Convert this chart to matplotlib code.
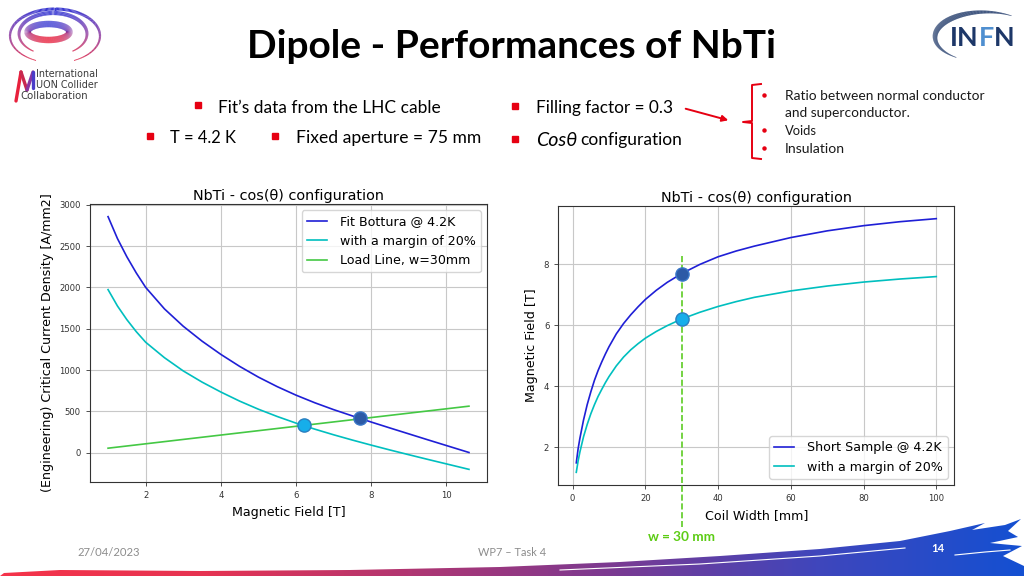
import numpy as np
import matplotlib.pyplot as plt
from matplotlib.patches import Polygon, FancyArrowPatch
from matplotlib.collections import LineCollection
from matplotlib.colors import LinearSegmentedColormap

# ---- left chart: NbTi critical current density vs field ----
field_b = [1.0, 1.25, 1.5, 1.75, 2.0, 2.5, 3.0, 3.5, 4.0, 4.5, 5.0, 5.5,
           6.0, 6.5, 7.0, 7.5, 8.0, 8.5, 9.0, 9.5, 10.0, 10.6]
jc_bottura = [2855, 2590, 2370, 2175, 2000, 1740, 1530, 1350, 1190, 1045, 915, 800,
              697, 605, 522, 446, 372, 300, 229, 158, 88, 4]
jc_margin = [1973, 1775, 1610, 1465, 1337, 1150, 990, 855, 735, 625, 527, 439,
             359, 286, 218, 154, 93, 34, -23, -79, -134, -200]
load_b = [1.0, 10.6]
load_j = [56, 564]
point_b = [7.7, 6.2]   # short sample, with margin
point_j = [419, 331]

# ---- right chart: field vs coil width ----
coil_w = [1, 1.5, 2, 3, 4, 5, 6, 7, 8, 9, 10, 12, 14, 16, 18, 20, 23, 26, 30,
          35, 40, 45, 50, 60, 70, 80, 90, 100]
b_short = [1.49, 1.95, 2.3, 2.9, 3.4, 3.82, 4.2, 4.52, 4.8, 5.06, 5.3, 5.72, 6.06, 6.35,
           6.61, 6.85, 7.15, 7.41, 7.7, 8.0, 8.25, 8.44, 8.6, 8.88, 9.1, 9.27, 9.4, 9.5]
b_margin = [1.18, 1.55, 1.85, 2.35, 2.75, 3.1, 3.4, 3.67, 3.9, 4.12, 4.32, 4.67, 4.96, 5.2,
            5.4, 5.58, 5.8, 5.99, 6.21, 6.43, 6.62, 6.78, 6.92, 7.13, 7.29, 7.42, 7.52, 7.6]
w_chosen = 30

BLUE = '#1f1fd6'
CYAN = '#00bfbf'
GREEN = '#44c844'
RED = '#e60012'
NAVY = '#1d3768'
SLIDE_FONT = ['Lato', 'DejaVu Sans']

fig = plt.figure(figsize=(10.24, 5.76), dpi=100)

# background axes in pixel coordinates (y down)
bg = fig.add_axes([0, 0, 1, 1], zorder=0)
bg.axis('off')

# footer brush stroke with a red -> blue gradient
brush_cmap = LinearSegmentedColormap.from_list(
    'brush', ['#f5334a', '#e63352', '#b03672', '#7a3a92', '#3f46bc', '#1450d2'])
grad = np.linspace(0, 1, 256).reshape(1, -1)
im = bg.imshow(grad, cmap=brush_cmap, extent=[0, 1024, 576, 510], aspect='auto', zorder=1)
brush_pts = [(4, 573), (60, 570), (200, 571), (350, 570), (500, 567), (620, 562),
             (720, 556), (820, 549), (900, 541), (950, 531), (985, 523), (972, 530),
             (1005, 525), (1021, 519), (1008, 531), (1018, 537), (990, 543),
             (1022, 546), (1003, 556), (1024, 566), (1024, 576), (0, 576)]
brush = Polygon(brush_pts, closed=True, facecolor='none', edgecolor='none')
bg.add_patch(brush)
im.set_clip_path(brush)
bg.plot([560, 700, 820, 905], [570, 564, 556, 548], color='white', lw=0.8, zorder=2)
bg.plot([955, 985, 1010], [555, 552, 550], color='white', lw=0.8, zorder=2)

bg.set_xlim(0, 1024)
bg.set_ylim(576, 0)

# MUON collider logo: coloured rings
ring_cmap = LinearSegmentedColormap.from_list('ring', ['#3a3ad2', '#8a2f9a', '#e8203c'])


def ring(cx, cy, a, b, t0, t1, lw_max, taper=True):
    t = np.radians(np.linspace(t0, t1, 200))
    x = cx + a * np.cos(t)
    y = cy - b * np.sin(t)
    pts = np.column_stack([x, y]).reshape(-1, 1, 2)
    segs = np.concatenate([pts[:-1], pts[1:]], axis=1)
    ym = (y[:-1] + y[1:]) / 2
    cols = ring_cmap((ym - (cy - b)) / (2 * b))
    if taper:
        s = np.linspace(0, 1, len(segs))
        lws = lw_max * (0.25 + 0.75 * np.sin(np.pi * s))
    else:
        lws = lw_max
    bg.add_collection(LineCollection(segs, colors=cols, linewidths=lws, zorder=3))


ring(55, 36, 45, 27, -65, 245, 2.2)
ring(53, 34, 34, 21, -55, 235, 3.0)
ring(48.5, 32, 21, 8, 0, 360, 4.6, taper=False)

m_pts = [(16, 101), (21, 72), (27, 90), (33, 72), (33, 88)]
m_cols = ['#e8203c', '#c82850', '#8a35a0', '#4a3cc8']
for i in range(4):
    bg.plot([m_pts[i][0], m_pts[i + 1][0]], [m_pts[i][1], m_pts[i + 1][1]],
            color=m_cols[i], lw=2.4, solid_capstyle='round', zorder=3)

# INFN logo swoosh
t = np.radians(np.linspace(235, 58, 200))
sx = 985 + 50 * np.cos(t)
sy = 37 - 25 * np.sin(t)
pts = np.column_stack([sx, sy]).reshape(-1, 1, 2)
segs = np.concatenate([pts[:-1], pts[1:]], axis=1)
s = np.linspace(0, 1, len(segs))
bg.add_collection(LineCollection(segs, colors=NAVY,
                                 linewidths=0.4 + 3.6 * np.sin(np.pi * s) ** 1.2, zorder=3))

# red arrow and bracket
bg.add_patch(FancyArrowPatch((683, 108), (731, 121), arrowstyle='-|>', mutation_scale=9,
                             color=RED, lw=1.4, zorder=3))
bg.plot([761, 752, 752, 743, 752, 752, 761], [84, 85, 121, 122, 123, 158, 159],
        color=RED, lw=1.4, zorder=3)

# bullets
bg.plot([198, 150, 275, 515, 515], [105, 136, 136, 106, 139], 's', color=RED, ms=4.2, zorder=3)
bg.plot([764, 764, 764], [95, 130, 148], 'o', color=RED, ms=2.2, zorder=3)

texts = []


def slide_text(x, y, s, width, ha='left', **kw):
    kw.setdefault('family', SLIDE_FONT)
    kw.setdefault('color', 'black')
    tx = bg.text(x, y, s, ha=ha, va='center', fontsize=12, zorder=4, **kw)
    if width:
        texts.append((tx, width))
    return tx


slide_text(511.5, 47, 'Dipole - Performances of NbTi', 527, ha='center', fontweight='bold')
slide_text(218, 108, 'Fit\u2019s data from the LHC cable', 222)
slide_text(170, 138, 'T = 4.2 K', 66)
slide_text(296, 138, 'Fixed aperture = 75 mm', 184)
slide_text(536, 108, 'Filling factor = 0.3', 137)
slide_text(536, 140, 'Cos\u03b8', 41, fontstyle='italic')
slide_text(580, 140, 'configuration', 102)
slide_text(785, 96, 'Ratio between normal conductor', 198, color='#1a1a1a')
slide_text(785, 113, 'and superconductor.', 124, color='#1a1a1a')
slide_text(785, 131, 'Voids', 32, color='#1a1a1a')
slide_text(785, 149, 'Insulation', 60, color='#1a1a1a')
logo_txt = slide_text(36, 74, 'International', 61, family='DejaVu Sans', color='#3a3a3a')
logo_2 = slide_text(36, 85, 'UON Collider', None, family='DejaVu Sans', color='#3a3a3a')
logo_3 = slide_text(20, 96, 'Collaboration', None, family='DejaVu Sans', color='#3a3a3a')
slide_text(681.5, 537, 'w = 30 mm', 67, ha='center', color='#5ccc14', fontweight='bold')
slide_text(109, 553, '27/04/2023', 62, ha='center', color='#8c8c8c')
slide_text(512, 552, 'WP7 \u2013 Task 4', 68, ha='center', color='#8c8c8c')
slide_text(938, 549, '14', 13, ha='center', color='white', fontweight='bold')

# ---- left chart ----
ax1 = fig.add_axes([0.0879, 0.1632, 0.3877, 0.4826], zorder=2)
ax1.plot(field_b, jc_bottura, color=BLUE, lw=1.2, label='Fit Bottura @ 4.2K')
ax1.plot(field_b, jc_margin, color=CYAN, lw=1.2, label='with a margin of 20%')
ax1.plot(load_b, load_j, color=GREEN, lw=1.2, label='Load Line, w=30mm')
ax1.plot(point_b[1], point_j[1], 'o', ms=9.5, mfc='#16aeea', mec='#2a7fc0', zorder=5)
ax1.plot(point_b[0], point_j[0], 'o', ms=9.5, mfc='#2c5aa6', mec='#3a78c8', zorder=5)
ax1.set_yticks([0, 500, 1000, 1500, 2000, 2500, 3000])
ax1.set_xticks([2, 4, 6, 8, 10])
ax1.set_xlabel('Magnetic Field [T]', fontsize=9.1)
ax1.set_ylabel('(Engineering) Critical Current Density [A/mm2]', fontsize=9.1)
ax1.legend(loc='upper right', fontsize=9.1, handlelength=1.6, handletextpad=1.0)

# ---- right chart ----
ax2 = fig.add_axes([0.5452, 0.158, 0.3867, 0.4844], zorder=2)
ax2.plot(coil_w, b_short, color=BLUE, lw=1.2, label='Short Sample @ 4.2K')
ax2.plot(coil_w, b_margin, color=CYAN, lw=1.2, label='with a margin of 20%')
ax2.set_xlim(ax2.get_xlim())
ax2.set_ylim(ax2.get_ylim())
# dashed marker of the chosen width, running down to the "w = 30 mm" note
ax2.plot([w_chosen, w_chosen], [8.27, -0.6], '--', color='#5ccc22', lw=1.2,
         clip_on=False, zorder=3)
ax2.plot(w_chosen, b_short[coil_w.index(w_chosen)], 'o', ms=9.5, mfc='#2c5aa6', mec='#3a78c8', zorder=5)
ax2.plot(w_chosen, b_margin[coil_w.index(w_chosen)], 'o', ms=9.5, mfc='#16aeea', mec='#2a7fc0', zorder=5)
ax2.set_yticks([2, 4, 6, 8])
ax2.set_xticks([0, 20, 40, 60, 80, 100])
ax2.set_xlabel('Coil Width [mm]', fontsize=9.1)
ax2.set_ylabel('Magnetic Field [T]', fontsize=9.1)
ax2.legend(loc='lower right', fontsize=9.1, handlelength=1.6, handletextpad=1.0)

for ax in (ax1, ax2):
    ax.set_title('NbTi - cos(\u03b8) configuration', fontsize=10.4, pad=3)
    ax.grid(True, color='#c8c8c8', lw=0.8)
    ax.set_axisbelow(True)
    ax.tick_params(labelsize=6.1, length=3, width=0.6, colors='#333333')
    for sp in ax.spines.values():
        sp.set_color('#333333')
        sp.set_linewidth(0.8)

# scale slide texts to their measured widths
fig.canvas.draw()
rend = fig.canvas.get_renderer()
for tx, width in texts:
    w = tx.get_window_extent(renderer=rend).width
    tx.set_fontsize(tx.get_fontsize() * width / w)
logo_2.set_fontsize(logo_txt.get_fontsize())
logo_3.set_fontsize(logo_txt.get_fontsize() * 1.05)

# INFN lettering, pieces placed one after another
probe = bg.text(950, 38, 'INFN', fontsize=20, fontweight='bold', family=SLIDE_FONT)
fs = 20 * 65 / probe.get_window_extent(renderer=rend).width
probe.remove()
x = 950
for part, col in [('IN', NAVY), ('F', '#4f8fd0'), ('N', NAVY)]:
    tx = bg.text(x, 38, part, fontsize=fs, fontweight='bold', family=SLIDE_FONT,
                 color=col, va='center', zorder=4)
    x += tx.get_window_extent(renderer=rend).width

fig.savefig('out.png', dpi=100)
